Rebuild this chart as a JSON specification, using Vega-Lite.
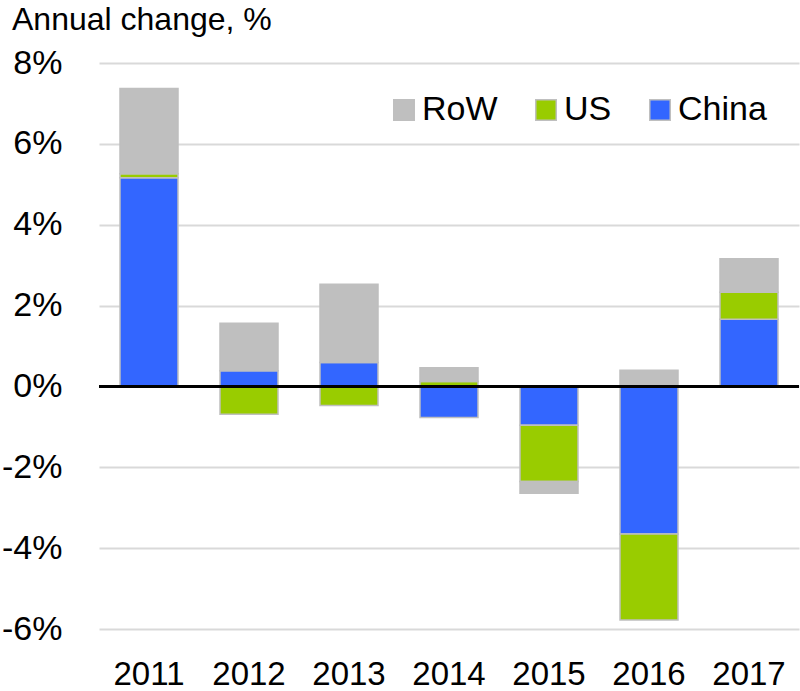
{
  "$schema": "https://vega.github.io/schema/vega-lite/v6.json",
  "autosize": {"type": "none"},
  "width": 700,
  "height": 566,
  "padding": {"left": 99, "top": 63, "right": 1, "bottom": 62},
  "background": "white",
  "title": {
    "text": "Annual change, %",
    "anchor": "start",
    "frame": "group",
    "dx": -87,
    "offset": 9,
    "fontSize": 32,
    "fontWeight": "normal",
    "font": "Liberation Sans",
    "color": "#000000"
  },
  "config": {
    "view": {"stroke": null},
    "font": "Liberation Sans"
  },
  "data": {
    "values": [
      {"year": "2011", "region": "China", "value": 5.16},
      {"year": "2011", "region": "US", "value": 0.10},
      {"year": "2011", "region": "RoW", "value": 2.11},
      {"year": "2012", "region": "China", "value": 0.39},
      {"year": "2012", "region": "US", "value": -0.69},
      {"year": "2012", "region": "RoW", "value": 1.17},
      {"year": "2013", "region": "China", "value": 0.59},
      {"year": "2013", "region": "US", "value": -0.47},
      {"year": "2013", "region": "RoW", "value": 1.94},
      {"year": "2014", "region": "China", "value": -0.77},
      {"year": "2014", "region": "US", "value": 0.12},
      {"year": "2014", "region": "RoW", "value": 0.34},
      {"year": "2015", "region": "China", "value": -0.96},
      {"year": "2015", "region": "US", "value": -1.39},
      {"year": "2015", "region": "RoW", "value": -0.29},
      {"year": "2016", "region": "China", "value": -3.65},
      {"year": "2016", "region": "US", "value": -2.13},
      {"year": "2016", "region": "RoW", "value": 0.40},
      {"year": "2017", "region": "China", "value": 1.66},
      {"year": "2017", "region": "US", "value": 0.67},
      {"year": "2017", "region": "RoW", "value": 0.83}
    ]
  },
  "layer": [
    {
      "transform": [
        {"calculate": "indexof(['China','US','RoW'], datum.region)", "as": "k"}
      ],
      "mark": {"type": "bar", "stroke": "#bfbfbf", "strokeWidth": 1.5},
      "encoding": {
        "x": {
          "field": "year",
          "type": "nominal",
          "scale": {"paddingInner": 0.42, "paddingOuter": 0.21},
          "axis": {
            "title": null,
            "labelAngle": 0,
            "ticks": false,
            "domain": false,
            "labelFontSize": 33,
            "labelColor": "#000000",
            "labelPadding": 29,
            "grid": false
          }
        },
        "y": {
          "field": "value",
          "type": "quantitative",
          "stack": "zero",
          "scale": {"domain": [-6, 8], "nice": false},
          "axis": {
            "title": null,
            "values": [-6, -4, -2, 0, 2, 4, 6, 8],
            "labelExpr": "datum.value + '%'",
            "ticks": false,
            "domain": false,
            "labelFontSize": 34,
            "labelColor": "#000000",
            "labelPadding": 37,
            "gridColor": "#d9d9d9",
            "gridWidth": 2
          }
        },
        "color": {
          "field": "region",
          "type": "nominal",
          "scale": {
            "domain": ["RoW", "US", "China"],
            "range": ["#bfbfbf", "#99cc00", "#3366ff"]
          },
          "legend": {
            "title": null,
            "orient": "none",
            "direction": "horizontal",
            "legendX": 288,
            "legendY": 30,
            "symbolType": "square",
            "symbolSize": 420,
            "symbolStrokeColor": "#bfbfbf",
            "symbolStrokeWidth": 1.5,
            "labelFontSize": 34,
            "labelColor": "#000000",
            "labelOffset": 1,
            "columnPadding": 31
          }
        },
        "order": {"field": "k", "type": "quantitative"}
      }
    },
    {
      "mark": {"type": "rule", "color": "#000000", "strokeWidth": 3},
      "encoding": {"y": {"datum": 0}}
    }
  ]
}
